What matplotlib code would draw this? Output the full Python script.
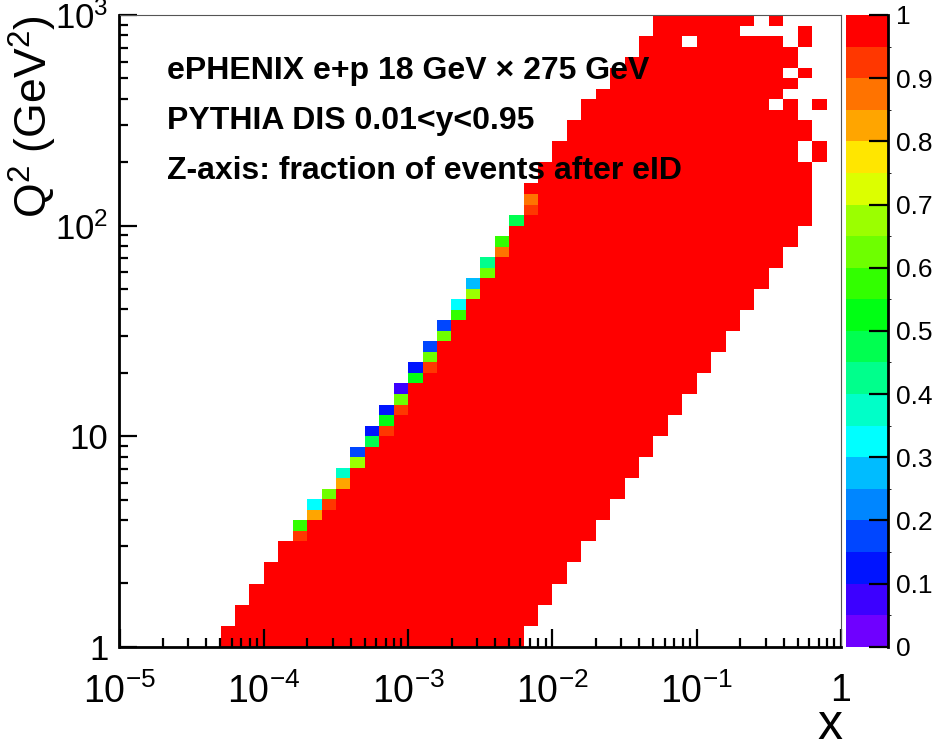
import numpy as np
import matplotlib
matplotlib.use('Agg')
import matplotlib.pyplot as plt
from matplotlib.colors import ListedColormap, BoundaryNorm

plt.rcParams['font.family'] = ['Liberation Sans', 'DejaVu Sans']
plt.rcParams['mathtext.fontset'] = 'custom'
plt.rcParams['mathtext.rm'] = 'Liberation Sans'
plt.rcParams['mathtext.it'] = 'Liberation Sans:italic'
plt.rcParams['mathtext.bf'] = 'Liberation Sans:bold'

# binning of the histogram: 10 bins / decade in x, 20 bins / decade in Q2
x_edges = np.logspace(-5, 0, 51)
q2_edges = np.logspace(0, 3, 61)

# per Q2 row: first and last filled x bin (filled = fraction 1)
row_first = [7, 7, 8, 8, 9, 9, 10, 10, 11, 11,
             12, 12, 13, 13, 14, 15, 15, 16, 16, 17,
             17, 18, 18, 19, 19, 20, 20, 21, 21, 22,
             22, 23, 23, 24, 24, 25, 25, 26, 26, 27,
             27, 28, 28, 28, 29, 29, 30, 30, 31, 31,
             32, 32, 33, 34, 34, 35, 36, 36, 37, 37]
row_last = [27, 27, 28, 28, 29, 29, 30, 30, 31, 31,
            32, 32, 33, 33, 34, 34, 35, 35, 36, 36,
            37, 37, 38, 38, 39, 39, 40, 40, 41, 41,
            42, 42, 43, 43, 44, 44, 45, 45, 46, 46,
            47, 47, 47, 47, 47, 47, 46, 46, 47, 47,
            46, 44, 45, 46, 45, 46, 46, 45, 42, 43]

# cells along the y<0.95 edge with fraction below 1
edge_row = [10, 11, 12, 13, 13, 14, 15, 16, 17, 18, 19, 20, 20, 21, 22, 22, 23, 24,
            25, 26, 26, 27, 28, 29, 30, 31, 32, 33, 34, 35, 36, 37, 38, 40, 41, 42]
edge_bin = [12, 12, 13, 13, 14, 14, 15, 15, 16, 16, 17, 17, 18, 18, 18, 19, 19, 19,
            20, 20, 21, 21, 21, 22, 22, 23, 23, 24, 24, 25, 25, 26, 26, 27, 28, 28]
edge_frac = [0.92, 0.57, 0.82, 0.32, 0.92, 0.62, 0.82, 0.37, 0.67, 0.17, 0.47, 0.12,
             0.92, 0.52, 0.12, 0.92, 0.62, 0.07, 0.52, 0.12, 0.92, 0.62, 0.17, 0.62,
             0.17, 0.57, 0.32, 0.67, 0.27, 0.62, 0.42, 0.87, 0.57, 0.47, 0.92, 0.87]

# isolated filled cells and empty holes at high Q2
island_row = [46, 47, 51, 51, 54, 57, 58, 59]
island_bin = [48, 48, 46, 48, 47, 47, 47, 45]
hole_row = [57]
hole_bin = [39]

palette = ['#6f00ff', '#3c00ff', '#0014ff', '#0046ff', '#0086ff', '#00bcff', '#00ffff',
           '#00ffc8', '#00ff8c', '#00ff50', '#00ff14', '#32ff00', '#6eff00', '#9bff00',
           '#dcff00', '#ffe600', '#ffa500', '#ff7300', '#ff3700', '#ff0000']
z_ticks = [0, 0.1, 0.2, 0.3, 0.4, 0.5, 0.6, 0.7, 0.8, 0.9, 1]
z_ticklabels = ['0', '0.1', '0.2', '0.3', '0.4', '0.5', '0.6', '0.7', '0.8', '0.9', '1']
x_ticks = [1e-5, 1e-4, 1e-3, 1e-2, 1e-1, 1]
x_ticklabels = ['$10^{-5}$', '$10^{-4}$', '$10^{-3}$', '$10^{-2}$', '$10^{-1}$', '1']
y_ticks = [1, 10, 100, 1000]
y_ticklabels = ['1', '10', '$10^{2}$', '$10^{3}$']

frac = np.full((len(q2_edges) - 1, len(x_edges) - 1), np.nan)
for r in range(len(row_first)):
    frac[r, row_first[r]:row_last[r] + 1] = 1.0
for r, b, v in zip(edge_row, edge_bin, edge_frac):
    frac[r, b] = v
for r, b in zip(island_row, island_bin):
    frac[r, b] = 1.0
for r, b in zip(hole_row, hole_bin):
    frac[r, b] = np.nan

cmap = ListedColormap(palette)
cmap.set_over(palette[-1])
cmap.set_bad('white', 0)
norm = BoundaryNorm(np.linspace(0, 1, 21), cmap.N)

W, H = 933, 749
fig = plt.figure(figsize=(W / 100, H / 100), dpi=100)
ax_l, ax_r, ax_b, ax_t = 119.5, 841, 646.7, 15
ax = fig.add_axes([ax_l / W, 1 - ax_b / H, (ax_r - ax_l) / W, (ax_b - ax_t) / H])

mesh = ax.pcolormesh(x_edges, q2_edges, np.ma.masked_invalid(frac), cmap=cmap, norm=norm,
                     edgecolors='none', antialiased=False)
ax.set_xscale('log')
ax.set_yscale('log')
ax.set_xlim(1e-5, 1)
ax.set_ylim(1, 1e3)

for s in ['top', 'right']:
    ax.spines[s].set_color('#555555')
    ax.spines[s].set_linewidth(0.8)
for s in ['bottom', 'left']:
    ax.spines[s].set_color('black')
    ax.spines[s].set_linewidth(2.0)

ax.set_xticks(x_ticks)
ax.set_xticklabels(x_ticklabels)
ax.set_yticks(y_ticks)
ax.set_yticklabels(y_ticklabels)
ax.tick_params(which='major', direction='in', length=13, width=1.6, top=False, right=False)
ax.tick_params(which='minor', direction='in', length=6.5, width=1.6, top=False, right=False)
ax.tick_params(axis='x', which='major', pad=19, labelsize=27)
ax.tick_params(axis='y', which='major', pad=8, labelsize=25)

fig.text(842 / W, 0.0, 'x', ha='right', va='bottom', fontsize=36)
fig.text(33 / W, 1 - 15 / H, 'Q$^{2}$ (GeV$^{2}$)', rotation=90, ha='center', va='top',
         fontsize=32)

labels = ['ePHENIX e+p 18 GeV \u00d7 275 GeV', 'PYTHIA DIS 0.01<y<0.95',
          'Z-axis: fraction of events after eID']
for txt, yp in zip(labels, [71, 121, 171]):
    fig.text(167 / W, 1 - yp / H, txt, ha='left', va='center', fontsize=23,
             fontweight='bold')

cax = fig.add_axes([846 / W, 1 - ax_b / H, 42 / W, (ax_b - ax_t) / H])
cb = fig.colorbar(mesh, cax=cax, ticks=z_ticks)
cb.outline.set_visible(False)
cax.set_yticklabels(z_ticklabels)
cax.tick_params(direction='in', length=14, width=1.6, labelsize=19, pad=6)
cax.plot([1, 1], [0, 1], transform=cax.transAxes, color='black', lw=2, clip_on=False)

fig.savefig('out.png', dpi=100)
